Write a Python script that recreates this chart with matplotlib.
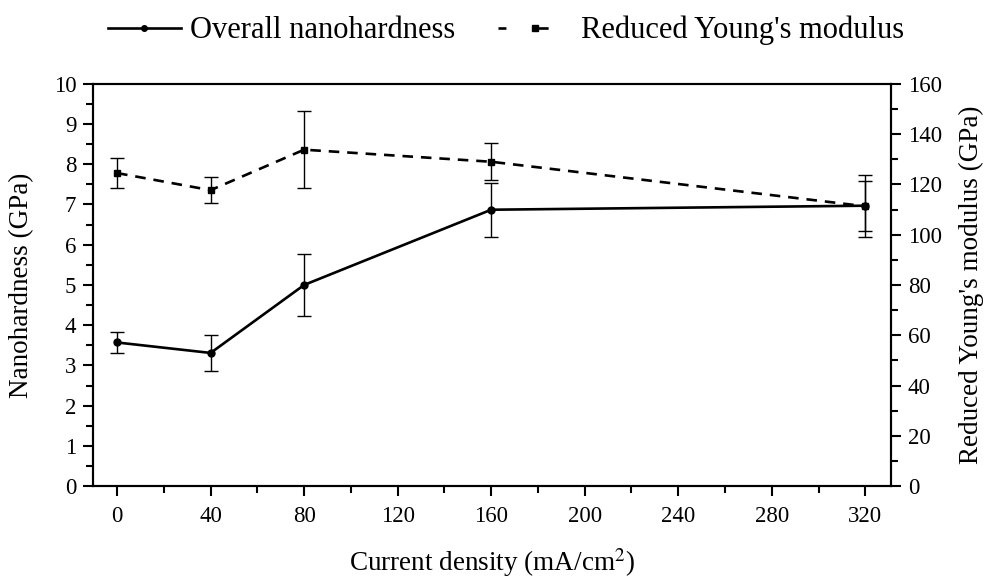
import matplotlib.pyplot as plt
import numpy as np
from matplotlib.ticker import MultipleLocator
from matplotlib.lines import Line2D

plt.rcParams['font.family'] = ['Liberation Serif', 'DejaVu Serif']
plt.rcParams['mathtext.fontset'] = 'stix'

current = [0, 40, 80, 160, 320]
hardness = [3.57, 3.31, 5.0, 6.87, 6.97]
hardness_err = [0.27, 0.44, 0.78, 0.67, 0.77]
modulus = [124.5, 117.7, 133.8, 129.0, 111.3]
modulus_err = [5.8, 5.2, 15.2, 7.4, 10.0]

fig = plt.figure(figsize=(9.84, 5.78), dpi=100)
ax = fig.add_axes([0.0945, 0.159, 0.811, 0.696])
ax2 = ax.twinx()

ax.errorbar(current, hardness, yerr=hardness_err, color='black', lw=1.9,
            marker='o', ms=5, capsize=5, elinewidth=1, capthick=1)
ax2.errorbar(current, modulus, yerr=modulus_err, color='black', lw=1.9,
             ls=(0, (4, 3)), marker='s', ms=5, capsize=5, elinewidth=1,
             capthick=1)

ax.set_xlim(-10.3, 331)
ax.set_ylim(0, 10)
ax2.set_ylim(0, 160)

ax.xaxis.set_major_locator(MultipleLocator(40))
ax.xaxis.set_minor_locator(MultipleLocator(20))
ax.yaxis.set_major_locator(MultipleLocator(1))
ax.yaxis.set_minor_locator(MultipleLocator(0.5))
ax2.yaxis.set_major_locator(MultipleLocator(20))
ax2.yaxis.set_minor_locator(MultipleLocator(10))

for a in (ax, ax2):
    for s in a.spines.values():
        s.set_linewidth(1.5)
    a.tick_params(which='major', direction='out', length=7, width=1.5,
                  labelsize=16.5, pad=5)
    a.tick_params(which='minor', direction='out', length=5, width=1.5)
ax.tick_params(axis='x', top=False, which='both', pad=7)

ax.set_xlabel('Current density (mA/cm$^2$)', fontsize=19.5, labelpad=14)
ax.set_ylabel('Nanohardness (GPa)', fontsize=19.5, labelpad=14)
ax2.set_ylabel("Reduced Young's modulus (GPa)", fontsize=19.5, labelpad=12)

# legend handles: plain lines, no error bars
h1 = Line2D([], [], color='black', lw=1.9, marker='o', ms=4)
h2 = Line2D([], [], color='black', lw=1.9, ls=(0, (3, 10, 6, 30)), marker='s', ms=4)
fig.legend(handles=[h1, h2],
           labels=['Overall nanohardness', "Reduced Young's modulus"],
           loc='upper center', bbox_to_anchor=(0.514, 1.02),
           ncol=2, frameon=False, fontsize=22, handlelength=2.4,
           columnspacing=1.4, handletextpad=0.3)

fig.savefig('out.png', dpi=100)
